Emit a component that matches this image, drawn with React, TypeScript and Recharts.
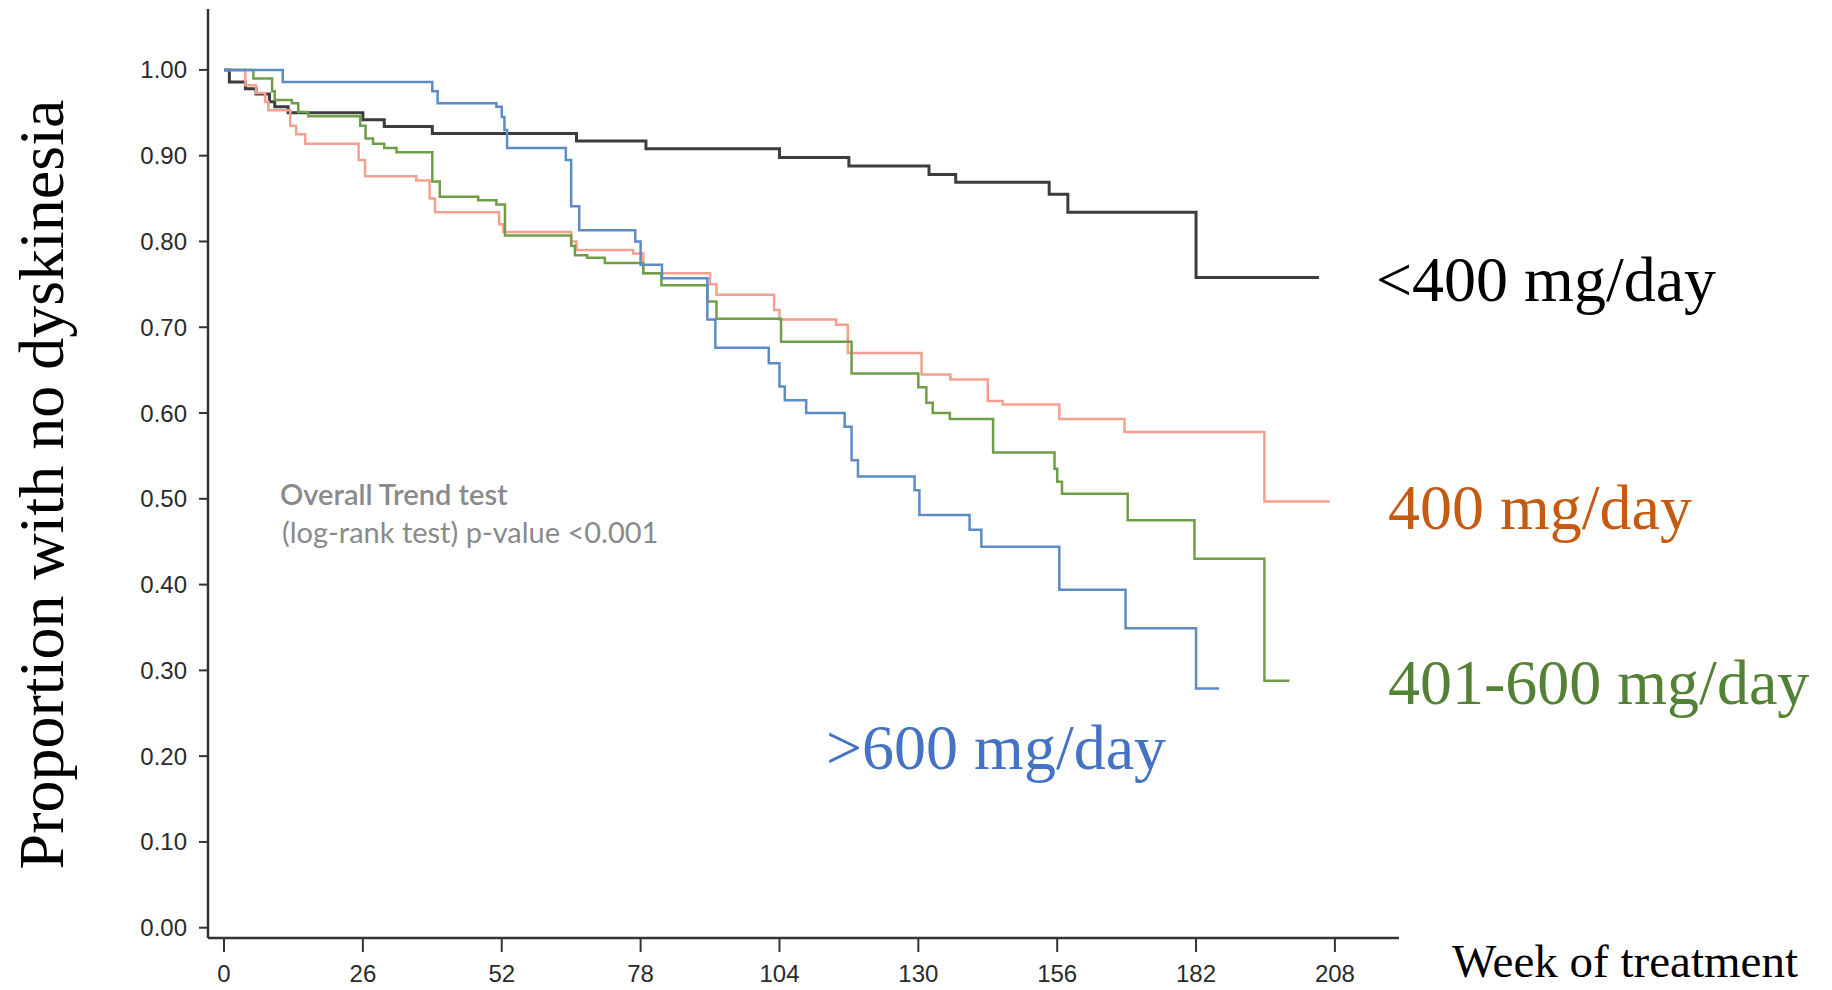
import React from 'react';
import { LineChart, Line, XAxis, YAxis } from 'recharts';

// Kaplan-Meier style curves: [week, proportion]
const below400: [number, number][] = [
  [0, 1.0], [1, 0.986], [4, 0.978], [6, 0.972], [8.5, 0.963], [9.5, 0.957], [12, 0.95],
  [26, 0.942], [30, 0.934], [39, 0.926], [66, 0.917], [79, 0.908], [104, 0.898],
  [117, 0.888], [132, 0.878], [137, 0.869], [154.5, 0.855], [158, 0.834], [182, 0.758],
  [205, 0.758],
];

const dose400: [number, number][] = [
  [0, 1.0], [4, 0.982], [6, 0.973], [7.7, 0.963], [8.3, 0.953], [12.4, 0.935],
  [13.5, 0.925], [15.2, 0.914], [25.2, 0.895], [26.4, 0.876], [36, 0.871], [38.5, 0.85],
  [39.5, 0.834], [51.5, 0.82], [52.3, 0.811], [65, 0.8], [66, 0.79], [76.6, 0.786],
  [78.5, 0.763], [91, 0.75], [92.2, 0.738], [103, 0.72], [104, 0.709], [114.6, 0.703],
  [116.8, 0.67], [130.6, 0.645], [136, 0.639], [143, 0.614], [145.8, 0.61], [156.4, 0.593],
  [168.6, 0.578], [194.8, 0.497], [207, 0.497],
];

const dose401to600: [number, number][] = [
  [0, 1.0], [5.5, 0.99], [9, 0.975], [9.5, 0.965], [12.7, 0.961], [13.9, 0.951],
  [15.8, 0.946], [25.5, 0.935], [26.5, 0.92], [27.9, 0.914], [30, 0.909], [32.3, 0.904],
  [39, 0.87], [40.4, 0.852], [47.6, 0.848], [51, 0.843], [52.6, 0.807], [65, 0.795],
  [65.7, 0.784], [68, 0.781], [71.3, 0.775], [78.5, 0.763], [81.9, 0.749], [90.5, 0.73],
  [92.2, 0.71], [104.3, 0.683], [117.5, 0.646], [130, 0.63], [131.5, 0.612], [132.7, 0.6],
  [135.9, 0.593], [144, 0.554], [155.5, 0.535], [156, 0.52], [156.9, 0.506], [169.2, 0.475],
  [181.7, 0.43], [194.8, 0.288], [199.5, 0.288],
];

const above600: [number, number][] = [
  [0, 1.0], [11, 0.986], [39, 0.975], [40, 0.961], [51, 0.957], [52, 0.945], [52.5, 0.93],
  [53, 0.909], [64, 0.895], [65, 0.841], [66.5, 0.813], [77, 0.8], [78, 0.773], [82, 0.757],
  [90.5, 0.709], [92, 0.676], [102, 0.658], [104, 0.631], [105, 0.615], [109, 0.6],
  [116.2, 0.584], [117.5, 0.545], [118.7, 0.526], [129.3, 0.51], [130.2, 0.481],
  [139.6, 0.464], [141.8, 0.444], [156.4, 0.394], [168.8, 0.349], [182, 0.279], [186.3, 0.279],
];

const weekTicks = [0, 26, 52, 78, 104, 130, 156, 182, 208];
const proportionTicks = [0, 0.1, 0.2, 0.3, 0.4, 0.5, 0.6, 0.7, 0.8, 0.9, 1.0];

const toRows = (pts: [number, number][]) => pts.map(([week, p]) => ({ week, p }));

const series = [
  { name: '<400 mg/day', data: toRows(below400), color: '#3c3c3c', width: 3 },
  { name: '400 mg/day', data: toRows(dose400), color: '#f4a08e', width: 2.5 },
  { name: '401-600 mg/day', data: toRows(dose401to600), color: '#6e9f48', width: 2.5 },
  { name: '>600 mg/day', data: toRows(above600), color: '#5b8bc8', width: 2.5 },
];

const axisColor = '#333333';
const tickFont = { fill: '#2a2a2a', fontSize: 24, fontFamily: '"Liberation Sans", Arial, sans-serif' };
const serif = '"Liberation Serif", "Times New Roman", serif';
const noteFont = 'Lato, "Open Sans", sans-serif';

export default function App() {
  return (
    <div style={{ position: 'absolute', left: 0, top: 0, width: 1832, height: 990, background: '#fff' }}>
      <LineChart width={1832} height={990} margin={{ top: 9, right: 433, bottom: 12, left: 128 }}>
        <XAxis
          type="number"
          dataKey="week"
          domain={[-3, 220]}
          ticks={weekTicks}
          allowDataOverflow
          height={40}
          stroke={axisColor}
          strokeWidth={2.5}
          tickSize={14}
          tickMargin={13}
          tick={tickFont}
          tickLine={{ stroke: axisColor, strokeWidth: 2 }}
        />
        <YAxis
          type="number"
          domain={[-0.012, 1.071]}
          ticks={proportionTicks}
          allowDataOverflow
          width={80}
          stroke={axisColor}
          strokeWidth={2.5}
          tickSize={9}
          tickMargin={12}
          tick={tickFont}
          tickLine={{ stroke: axisColor, strokeWidth: 2 }}
          tickFormatter={(v: number) => v.toFixed(2)}
        />
        {series.map((s) => (
          <Line
            key={s.name}
            data={s.data}
            dataKey="p"
            name={s.name}
            type="stepAfter"
            stroke={s.color}
            strokeWidth={s.width}
            dot={false}
            activeDot={false}
            isAnimationActive={false}
          />
        ))}
      </LineChart>
      <svg
        width={1832}
        height={990}
        style={{ position: 'absolute', left: 0, top: 0, pointerEvents: 'none' }}
      >
        <text
          transform="translate(62.5, 484.5) rotate(-90)"
          textAnchor="middle"
          fontFamily={serif}
          fontSize={64}
          fill="#000"
        >
          Proportion with no dyskinesia
        </text>
        <text x={1452} y={977} fontFamily={serif} fontSize={47} fill="#000">Week of treatment</text>
        <text x={1376} y={301} fontFamily={serif} fontSize={64} fill="#000">&lt;400 mg/day</text>
        <text x={1388} y={529} fontFamily={serif} fontSize={64} fill="#c55a11">400 mg/day</text>
        <text x={1388} y={704} fontFamily={serif} fontSize={64} fill="#538135">401-600 mg/day</text>
        <text x={826} y={769} fontFamily={serif} fontSize={64} fill="#4472c4">&gt;600 mg/day</text>
        <text x={280} y={505} fontFamily={noteFont} fontSize={29} fontWeight={600} fill="#8a8a8a">
          Overall Trend test
        </text>
        <text x={282} y={543} fontFamily={noteFont} fontSize={29} fill="#8a8a8a">
          (log-rank test) p-value &lt;0.001
        </text>
      </svg>
    </div>
  );
}
